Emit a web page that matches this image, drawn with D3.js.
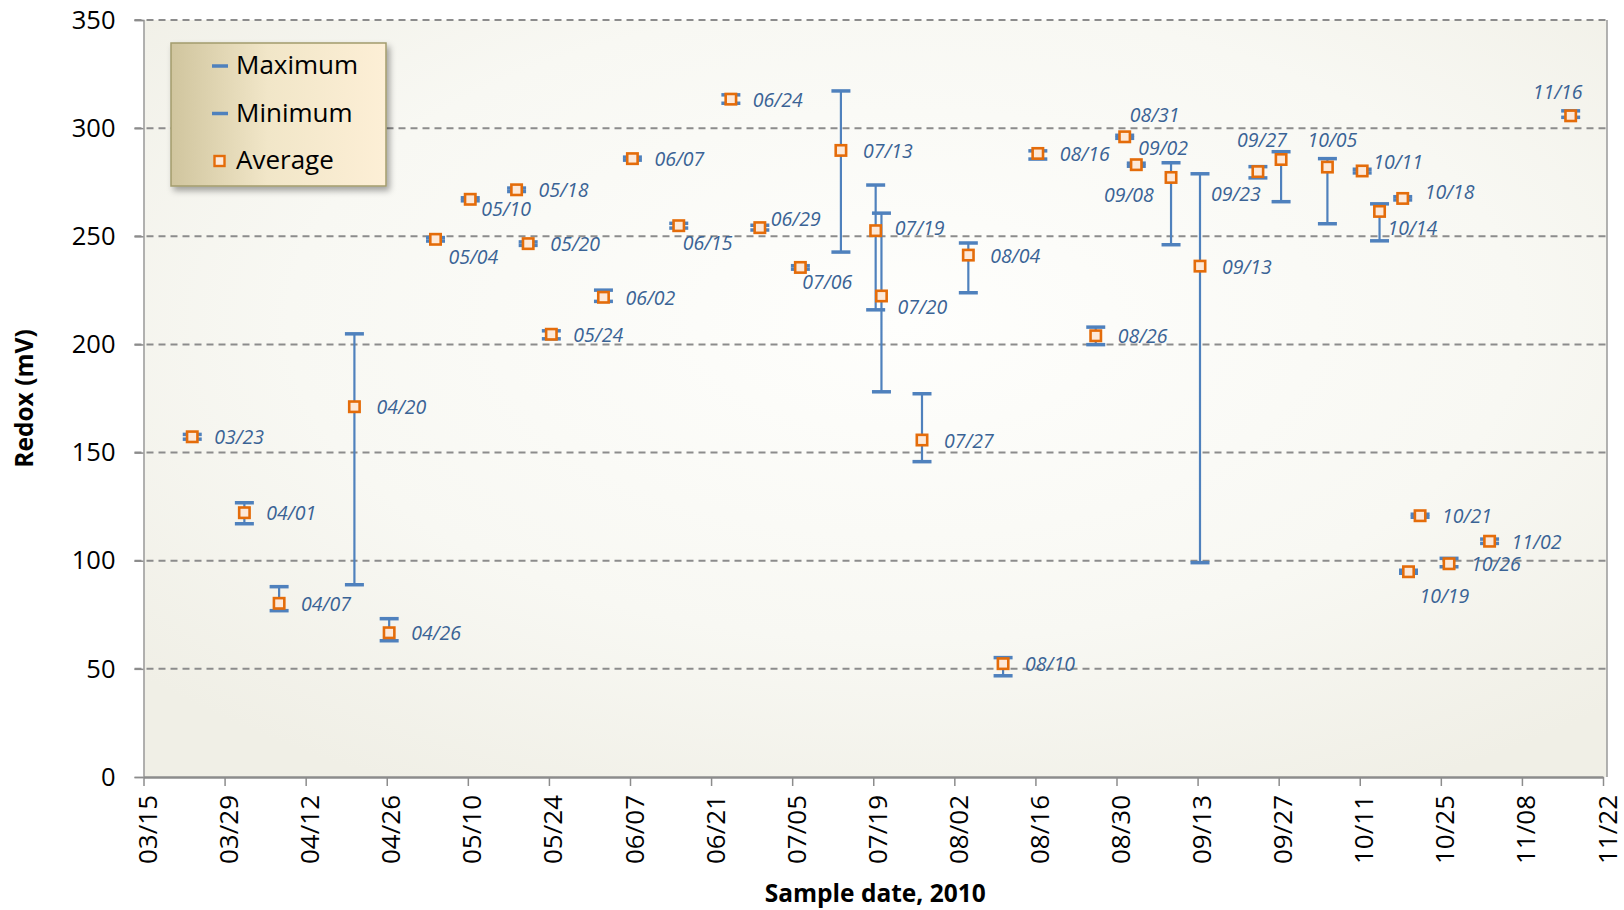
<!DOCTYPE html>
<html>
<head>
<meta charset="utf-8">
<script src="https://cdn.jsdelivr.net/npm/d3@7"></script>
<style>
  body { margin: 0; background: #fff; }
  svg { display: block; font-family: "Open Sans", sans-serif; }
</style>
</head>
<body>
<svg width="1624" height="910"></svg>
<script>
// sample dates (2010) and redox readings, mV
const dates = ["03/23","04/01","04/07","04/20","04/26","05/04","05/10","05/18","05/20","05/24",
  "06/02","06/07","06/15","06/24","06/29","07/06","07/13","07/19","07/20","07/27",
  "08/04","08/10","08/16","08/26","08/31","09/02","09/08","09/13","09/23","09/27",
  "10/05","10/11","10/14","10/18","10/19","10/21","10/26","11/02","11/16"];
const avgValues = [157.3,122.2,80.3,171.2,66.7,248.6,267.1,271.5,246.6,204.7,
  221.8,285.9,254.9,313.4,254.0,235.6,289.7,252.6,222.4,155.8,
  241.3,52.4,288.3,204.0,296.0,283.1,277.2,236.2,279.9,285.5,
  282.0,280.2,261.5,267.5,94.9,120.8,98.6,109.0,305.7];
const minValues = [156.2,117.1,76.9,88.9,63.0,247.8,266.4,270.7,245.8,202.6,
  219.9,285.2,253.8,311.5,252.9,234.8,242.7,216.0,178.1,145.8,
  223.9,46.8,285.7,199.9,295.3,282.4,246.1,99.1,277.0,266.0,
  255.8,279.3,247.9,266.8,94.2,120.1,97.2,108.0,305.0];
const maxValues = [158.4,126.8,88.0,204.9,73.2,249.4,267.8,272.3,247.4,206.3,
  225.1,286.6,256.0,315.4,255.1,236.4,317.2,273.7,260.7,177.2,
  246.9,55.2,289.5,208.0,296.7,283.8,284.0,278.9,282.2,289.1,
  285.9,281.0,265.0,268.3,95.6,121.5,101.1,110.0,308.0];

const xTickLabels = ["03/15","03/29","04/12","04/26","05/10","05/24","06/07","06/21","07/05",
  "07/19","08/02","08/16","08/30","09/13","09/27","10/11","10/25","11/08","11/22"];
const yTickValues = [0, 50, 100, 150, 200, 250, 300, 350];
const seriesNames = ["Maximum", "Minimum", "Average"];

// where a data label sits when it is not simply to the right: [dx of text start, dy]
const labelOffsets = {
  "05/04": [13, 17], "05/10": [11, 9], "06/15": [4, 17], "06/29": [11, -9],
  "07/06": [2, 14], "07/19": [19, -3], "07/20": [16, 11], "08/31": [5, -22],
  "09/02": [2, -17], "09/08": [-67, 17], "09/23": [-47, 22], "09/27": [-44, -20],
  "10/05": [-20, -28], "10/11": [11, -9], "10/14": [8, 16], "10/18": [22, -7],
  "10/19": [11, 24], "11/16": [-38, -24]
};

const blue = "#4f81bd", orange = "#e46c0a", grid = "#8c8c8c";

const parse = d3.timeParse("%Y/%m/%d");
const toDate = s => parse("2010/" + s);
// samples were taken in the morning, so the marks sit a little right of the day tick
const sampleTime = s => d3.timeHour.offset(toDate(s), 10);

const rows = dates.map((d, i) => ({
  label: d, date: sampleTime(d), avg: avgValues[i], min: minValues[i], max: maxValues[i]
}));

const svg = d3.select("svg");
const mLeft = 143.5, mRight = 1603, mTop = 20, mBottom = 777;

const x = d3.scaleTime()
  .domain([toDate(xTickLabels[0]), toDate(xTickLabels[xTickLabels.length - 1])])
  .range([mLeft, mRight]);
const y = d3.scaleLinear().domain([0, 350]).range([mBottom, mTop]);

const defs = svg.append("defs");
const bg = defs.append("radialGradient").attr("id", "plotBg")
  .attr("cx", "52%").attr("cy", "40%").attr("r", "70%");
bg.append("stop").attr("offset", "0%").attr("stop-color", "#fefefc");
bg.append("stop").attr("offset", "60%").attr("stop-color", "#f8f8f3");
bg.append("stop").attr("offset", "100%").attr("stop-color", "#f0efe6");

const lg = defs.append("linearGradient").attr("id", "legBg");
lg.append("stop").attr("offset", "0%").attr("stop-color", "#d0c59e");
lg.append("stop").attr("offset", "45%").attr("stop-color", "#f1e6c8");
lg.append("stop").attr("offset", "100%").attr("stop-color", "#fdefd6");

const sh = defs.append("filter").attr("id", "shadow")
  .attr("x", "-10%").attr("y", "-10%").attr("width", "130%").attr("height", "130%");
sh.append("feDropShadow").attr("dx", 3).attr("dy", 4).attr("stdDeviation", 3)
  .attr("flood-color", "#000").attr("flood-opacity", 0.35);

const plotRight = mRight + 4;

svg.append("rect")
  .attr("x", mLeft).attr("y", mTop)
  .attr("width", plotRight - mLeft).attr("height", mBottom - mTop)
  .attr("fill", "url(#plotBg)");

// dashed grid lines
svg.append("g")
  .selectAll("line")
  .data(yTickValues.filter(v => v > 0))
  .join("line")
  .attr("x1", mLeft - 9).attr("x2", plotRight)
  .attr("y1", d => y(d)).attr("y2", d => y(d))
  .attr("stroke", grid).attr("stroke-width", 2)
  .attr("stroke-dasharray", "7,5");

// y axis
const yAxis = svg.append("g")
  .attr("transform", `translate(${mLeft},0)`)
  .call(d3.axisLeft(y).tickValues(yTickValues).tickSize(9).tickPadding(19));
yAxis.select(".domain").attr("stroke", "#999").attr("stroke-width", 1.5);
yAxis.selectAll(".tick line").attr("stroke", grid).attr("stroke-width", 1.5);
yAxis.selectAll(".tick text")
  .attr("font-family", "Open Sans").attr("font-size", 25.5).attr("fill", "#000");

// right border
svg.append("line")
  .attr("x1", plotRight).attr("x2", plotRight).attr("y1", mTop).attr("y2", mBottom)
  .attr("stroke", "#999").attr("stroke-width", 1.5);

// x axis
const xAxis = svg.append("g")
  .attr("transform", `translate(0,${mBottom})`)
  .call(d3.axisBottom(x).tickValues(xTickLabels.map(toDate))
    .tickFormat(d3.timeFormat("%m/%d")).tickSize(9).tickPadding(0).tickSizeOuter(0));
xAxis.select(".domain").attr("stroke", grid).attr("stroke-width", 2.5);
xAxis.selectAll(".tick line").attr("stroke", grid).attr("stroke-width", 1.5);
xAxis.selectAll(".tick text")
  .attr("font-family", "Open Sans").attr("font-size", 26).attr("fill", "#000")
  .attr("text-anchor", "end").attr("dy", null).attr("y", 0)
  .attr("dominant-baseline", "central")
  .attr("transform", "translate(3,18) rotate(-90)");

// error bars
const bars = svg.append("g").selectAll("g").data(rows).join("g");
bars.append("line")
  .attr("x1", d => x(d.date)).attr("x2", d => x(d.date))
  .attr("y1", d => y(d.max)).attr("y2", d => y(d.min))
  .attr("stroke", blue).attr("stroke-width", 2.2);
bars.selectAll(".cap").data(d => [[d.date, d.max], [d.date, d.min]]).join("line")
  .attr("class", "cap")
  .attr("x1", d => x(d[0]) - 9.5).attr("x2", d => x(d[0]) + 9.5)
  .attr("y1", d => y(d[1])).attr("y2", d => y(d[1]))
  .attr("stroke", blue).attr("stroke-width", 3.5);

// average markers
svg.append("g").selectAll("rect").data(rows).join("rect")
  .attr("x", d => x(d.date) - 5.2).attr("y", d => y(d.avg) - 5.2)
  .attr("width", 10.4).attr("height", 10.4)
  .attr("fill", "#fde9d9").attr("stroke", orange).attr("stroke-width", 2.6);

// date labels
svg.append("g").selectAll("text").data(rows).join("text")
  .attr("x", d => x(d.date) + (labelOffsets[d.label] ? labelOffsets[d.label][0] : 22))
  .attr("y", d => y(d.avg) + (labelOffsets[d.label] ? labelOffsets[d.label][1] : 0))
  .attr("dominant-baseline", "central")
  .attr("font-family", "Open Sans").attr("font-style", "italic")
  .attr("font-size", 19.5).attr("fill", "#3a6395")
  .text(d => d.label);

// axis titles
svg.append("text")
  .attr("x", (mLeft + plotRight) / 2).attr("y", 892)
  .attr("text-anchor", "middle").attr("dominant-baseline", "central")
  .attr("font-weight", "bold").attr("font-size", 24.5).attr("fill", "#000")
  .text("Sample date, 2010");
svg.append("text")
  .attr("transform", `translate(23,${(mTop + mBottom) / 2}) rotate(-90)`)
  .attr("text-anchor", "middle").attr("dominant-baseline", "central")
  .attr("font-weight", "bold").attr("font-size", 24.5).attr("fill", "#000")
  .text("Redox (mV)");

// legend
const legend = svg.append("g").attr("transform", "translate(171,43)");
legend.append("rect")
  .attr("width", 215).attr("height", 143)
  .attr("fill", "url(#legBg)").attr("stroke", "#a39c6c").attr("stroke-width", 1.5)
  .attr("filter", "url(#shadow)");
const item = legend.selectAll(".item").data(seriesNames).join("g")
  .attr("class", "item")
  .attr("transform", (d, i) => `translate(0,${23 + i * 47.5})`);
item.filter(d => d !== "Average").append("line")
  .attr("x1", 41).attr("x2", 57).attr("stroke", blue).attr("stroke-width", 3.5);
item.filter(d => d === "Average").append("rect")
  .attr("x", 43.5).attr("y", -5).attr("width", 10).attr("height", 10)
  .attr("fill", "#fde9d9").attr("stroke", orange).attr("stroke-width", 2.4);
item.append("text")
  .attr("x", 65).attr("y", -2).attr("dominant-baseline", "central")
  .attr("font-size", 26).attr("fill", "#000")
  .text(d => d);
</script>
</body>
</html>
